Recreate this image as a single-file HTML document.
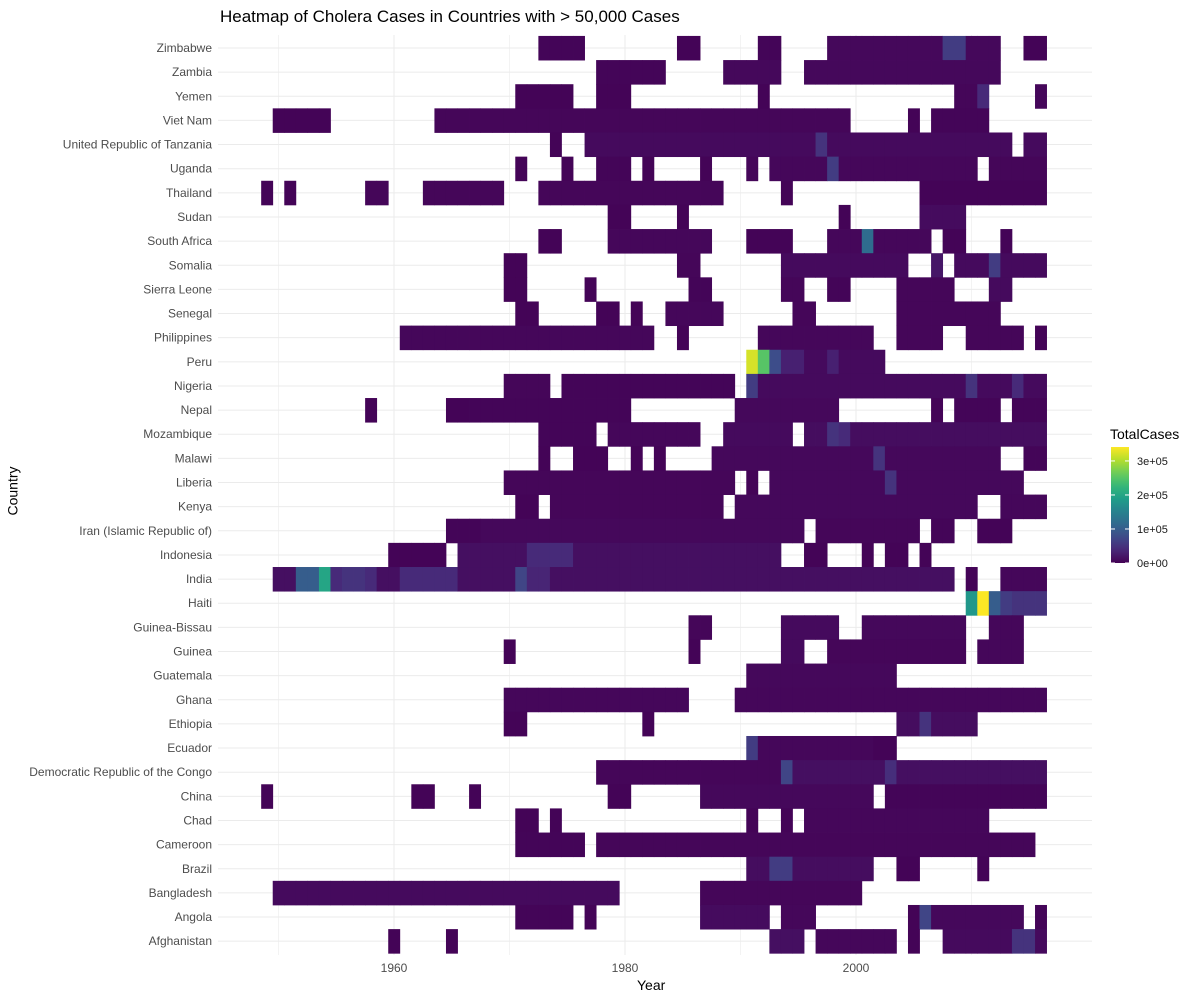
<!DOCTYPE html>
<html><head><meta charset="utf-8"><style>
body{margin:0;background:#fff;font-family:"Liberation Sans",sans-serif}
</style></head><body>
<svg id="chart" width="1200" height="1000" xmlns="http://www.w3.org/2000/svg"></svg>
<script>
const countries=["Zimbabwe","Zambia","Yemen","Viet Nam","United Republic of Tanzania","Uganda","Thailand","Sudan","South Africa","Somalia","Sierra Leone","Senegal","Philippines","Peru","Nigeria","Nepal","Mozambique","Malawi","Liberia","Kenya","Iran (Islamic Republic of)","Indonesia","India","Haiti","Guinea-Bissau","Guinea","Guatemala","Ghana","Ethiopia","Ecuador","Democratic Republic of the Congo","China","Chad","Cameroon","Brazil","Bangladesh","Angola","Afghanistan"];
// segments: [country, startYear, endYear, cases]
const segments=[
["Zimbabwe",1973,1976,4000],["Zimbabwe",1985,1986,3000],["Zimbabwe",1992,1993,4000],["Zimbabwe",1998,2012,7000],["Zimbabwe",2015,2016,3000],
["Zambia",1978,1983,4000],["Zambia",1989,1993,7000],["Zambia",1996,2012,7000],
["Yemen",1971,1975,3000],["Yemen",1978,1980,3000],["Yemen",1992,1992,3000],["Yemen",2009,2011,5000],["Yemen",2016,2016,6000],
["Viet Nam",1950,1954,3000],["Viet Nam",1964,1999,5000],["Viet Nam",2005,2005,3000],["Viet Nam",2007,2011,4000],
["United Republic of Tanzania",1974,1974,3000],["United Republic of Tanzania",1977,2013,9000],["United Republic of Tanzania",2015,2016,9000],
["Uganda",1971,1971,3000],["Uganda",1975,1975,3000],["Uganda",1978,1980,4000],["Uganda",1982,1982,3000],["Uganda",1987,1987,3000],["Uganda",1991,1991,5000],["Uganda",1993,2010,6000],["Uganda",2012,2016,5000],
["Thailand",1949,1949,3000],["Thailand",1951,1951,3000],["Thailand",1958,1959,5000],["Thailand",1963,1969,5000],["Thailand",1973,1988,5000],["Thailand",1994,1994,3000],["Thailand",2006,2016,3000],
["Sudan",1979,1980,3000],["Sudan",1985,1985,3000],["Sudan",1999,1999,3000],["Sudan",2006,2009,10000],
["South Africa",1973,1974,3000],["South Africa",1979,1987,6000],["South Africa",1991,1994,3000],["South Africa",1998,2006,6000],["South Africa",2008,2009,3000],["South Africa",2013,2013,3000],
["Somalia",1970,1971,3000],["Somalia",1985,1986,5000],["Somalia",1994,2004,9000],["Somalia",2007,2007,20000],["Somalia",2009,2016,9000],
["Sierra Leone",1970,1971,3000],["Sierra Leone",1977,1977,3000],["Sierra Leone",1986,1987,4000],["Sierra Leone",1994,1995,5000],["Sierra Leone",1998,1999,4000],["Sierra Leone",2004,2008,5000],["Sierra Leone",2012,2013,9000],
["Senegal",1971,1972,3000],["Senegal",1978,1979,3000],["Senegal",1981,1981,3000],["Senegal",1984,1988,6000],["Senegal",1995,1996,5000],["Senegal",2004,2012,5000],
["Philippines",1961,1982,6000],["Philippines",1985,1985,3000],["Philippines",1992,2001,6000],["Philippines",2004,2007,5000],["Philippines",2010,2014,5000],["Philippines",2016,2016,3000],
["Peru",1991,2002,9000],
["Nigeria",1970,1973,5000],["Nigeria",1975,1989,4000],["Nigeria",1991,2016,9000],
["Nepal",1958,1958,3000],["Nepal",1965,1966,3000],["Nepal",1967,1980,4000],["Nepal",1990,1998,7000],["Nepal",2007,2007,3000],["Nepal",2009,2012,4000],["Nepal",2014,2016,4000],
["Mozambique",1973,1977,4000],["Mozambique",1979,1986,6000],["Mozambique",1989,1994,9000],["Mozambique",1996,2016,12000],
["Malawi",1973,1973,3000],["Malawi",1976,1978,3000],["Malawi",1981,1981,3000],["Malawi",1983,1983,3000],["Malawi",1988,2012,7000],["Malawi",2015,2016,4000],
["Liberia",1970,1989,5000],["Liberia",1991,1991,3000],["Liberia",1993,2014,7000],
["Kenya",1971,1972,3000],["Kenya",1974,1988,5000],["Kenya",1990,2010,7000],["Kenya",2013,2016,6000],
["Iran (Islamic Republic of)",1965,1967,4000],["Iran (Islamic Republic of)",1968,1995,7000],["Iran (Islamic Republic of)",1997,2005,5000],["Iran (Islamic Republic of)",2007,2008,4000],["Iran (Islamic Republic of)",2011,2013,3000],
["Indonesia",1960,1964,3000],["Indonesia",1966,1993,14000],["Indonesia",1996,1997,3000],["Indonesia",2001,2001,3000],["Indonesia",2003,2004,3000],["Indonesia",2006,2006,3000],
["India",1950,2008,14000],["India",2010,2010,3000],["India",2013,2016,6000],
["Haiti",2010,2016,50000],
["Guinea-Bissau",1986,1987,5000],["Guinea-Bissau",1994,1998,9000],["Guinea-Bissau",2001,2009,7000],["Guinea-Bissau",2012,2014,6000],
["Guinea",1970,1970,3000],["Guinea",1986,1986,3000],["Guinea",1994,1995,9000],["Guinea",1998,2009,5000],["Guinea",2011,2014,6000],
["Guatemala",1991,2003,7000],
["Ghana",1970,1985,6000],["Ghana",1990,2016,6000],
["Ethiopia",1970,1971,3000],["Ethiopia",1982,1982,3000],["Ethiopia",2004,2010,12000],
["Ecuador",1991,2001,6000],["Ecuador",2002,2003,3000],
["Democratic Republic of the Congo",1978,1993,5000],["Democratic Republic of the Congo",1994,2016,14000],
["China",1949,1949,3000],["China",1962,1963,3000],["China",1967,1967,3000],["China",1979,1980,3000],["China",1987,2001,7000],["China",2003,2016,4000],
["Chad",1971,1972,3000],["Chad",1974,1974,3000],["Chad",1991,1991,3000],["Chad",1994,1994,3000],["Chad",1996,2011,6000],
["Cameroon",1971,1976,4000],["Cameroon",1978,2015,5000],
["Brazil",1991,2001,12000],["Brazil",2004,2005,3000],["Brazil",2011,2011,3000],
["Bangladesh",1950,1979,9000],["Bangladesh",1987,2000,5000],
["Angola",1971,1975,4000],["Angola",1977,1977,3000],["Angola",1987,1992,10000],["Angola",1994,1996,6000],["Angola",2005,2005,3000],["Angola",2006,2014,7000],["Angola",2016,2016,4000],
["Afghanistan",1960,1960,3000],["Afghanistan",1965,1965,3000],["Afghanistan",1993,1995,14000],["Afghanistan",1997,2003,6000],["Afghanistan",2005,2005,3000],["Afghanistan",2008,2016,9000]
];
// individual high-value cells: [country, year, cases]
const peaks=[
["Zimbabwe",2008,60000],["Zimbabwe",2009,60000],["Yemen",2011,40000],["United Republic of Tanzania",1997,50000],["Uganda",1998,60000],
["South Africa",2001,120000],["Somalia",2012,60000],
["Peru",1991,320000],["Peru",1992,250000],["Peru",1993,80000],["Peru",1994,30000],["Peru",1995,30000],["Peru",1998,30000],
["Nigeria",1991,60000],["Nigeria",2010,50000],["Nigeria",2014,40000],
["Mozambique",1998,50000],["Mozambique",1999,40000],["Malawi",2002,50000],["Liberia",2003,50000],
["India",1952,100000],["India",1953,100000],["India",1954,200000],["India",1955,40000],["India",1956,50000],["India",1957,50000],["India",1958,40000],
["India",1961,40000],["India",1962,40000],["India",1963,40000],["India",1964,40000],["India",1965,40000],["India",1971,70000],["India",1972,35000],["India",1973,35000],
["Haiti",2010,180000],["Haiti",2011,340000],["Haiti",2012,100000],["Haiti",2013,60000],
["Indonesia",1972,40000],["Indonesia",1973,40000],["Indonesia",1974,40000],["Indonesia",1975,40000],
["Ethiopia",2006,50000],["Ecuador",1991,60000],["Democratic Republic of the Congo",1994,70000],["Democratic Republic of the Congo",2003,45000],
["Brazil",1993,60000],["Brazil",1994,60000],["Angola",2006,70000],["Afghanistan",2014,50000],["Afghanistan",2015,50000]
];
const legendTicks=[0,100000,200000,300000];
const legendLabels=["0e+00","1e+05","2e+05","3e+05"];
const xTicks=[1960,1980,2000];

const NS="http://www.w3.org/2000/svg";
const svg=document.getElementById('chart');
function mk(tag,attrs,parent){const e=document.createElementNS(NS,tag);for(const k in attrs)e.setAttribute(k,attrs[k]);(parent||svg).appendChild(e);return e;}
const xScale=y=>394+(y-1960)*11.55;
const cellW=11.55;
const yScale=i=>48+i*24.14;
const cellH=24.14;
const vmax=341000;
const vir=[[68,1,84],[72,40,120],[62,74,137],[49,104,142],[38,130,142],[31,158,137],[53,183,121],[109,205,89],[180,222,44],[253,231,37]];
function color(v){let t=Math.max(0,Math.min(1,v/vmax))*(vir.length-1);let i=Math.min(Math.floor(t),vir.length-2),f=t-i;const c=vir[i].map((a,k)=>Math.round(a+(vir[i+1][k]-a)*f));return `rgb(${c})`;}

// grid
for(let i=0;i<countries.length;i++){const g=mk('line',{x1:218,x2:1092,y1:yScale(i),y2:yScale(i),stroke:'#ebebeb','stroke-width':1});}
[1950,1960,1970,1980,1990,2000,2010].forEach(yr=>{const g=mk('line',{x1:xScale(yr),x2:xScale(yr),y1:35,y2:955,stroke:'#ebebeb','stroke-width':yr%20==0?1:0.6});});

// cells
const vals={};
segments.forEach(([c,s,e,v])=>{for(let y=s;y<=e;y++)vals[c+'|'+y]=v;});
peaks.forEach(([c,y,v])=>{vals[c+'|'+y]=v;});
for(const key in vals){const [c,y]=key.split('|');const i=countries.indexOf(c);const yr=+y;
 const r=mk('rect',{x:xScale(yr)-cellW/2,y:yScale(i)-cellH/2,width:cellW+0.4,height:cellH+0.4,fill:color(vals[key])});
 
 }

// y labels
countries.forEach((c,i)=>{const t=mk('text',{x:212,y:yScale(i)+4,'text-anchor':'end','font-size':12,fill:'#4d4d4d'});t.textContent=c;});
xTicks.forEach(v=>{const t=mk('text',{x:xScale(v),y:972,'text-anchor':'middle','font-size':12,fill:'#4d4d4d'});t.textContent=v;});

// legend
const defs=mk('defs',{});const lg=mk('linearGradient',{id:'lg',x1:0,y1:1,x2:0,y2:0},defs);
for(let k=0;k<=20;k++){mk('stop',{offset:k/20,'stop-color':color(vmax*k/20)},lg);}
const lb=mk('rect',{x:1111,y:447,width:18,height:116,fill:'url(#lg)'});
legendTicks.forEach((v,k)=>{const y=563-v/vmax*116;mk('line',{x1:1111,x2:1115,y1:y,y2:y,stroke:'#fff'});mk('line',{x1:1125,x2:1129,y1:y,y2:y,stroke:'#fff'});
 const t=mk('text',{x:1137,y:y+4,'font-size':11,fill:'#1a1a1a'});t.textContent=legendLabels[k];});
</script>
<div style="position:absolute;left:220px;top:7px;font-size:17px;color:#000">Heatmap of Cholera Cases in Countries with &gt; 50,000 Cases</div>
<div style="position:absolute;left:637px;top:977px;font-size:14px;color:#000">Year</div>
<div style="position:absolute;left:-12px;top:483px;font-size:14px;color:#000;transform:rotate(-90deg)">Country</div>
<div style="position:absolute;left:1110px;top:426px;font-size:14px;color:#000">TotalCases</div>
</body></html>
